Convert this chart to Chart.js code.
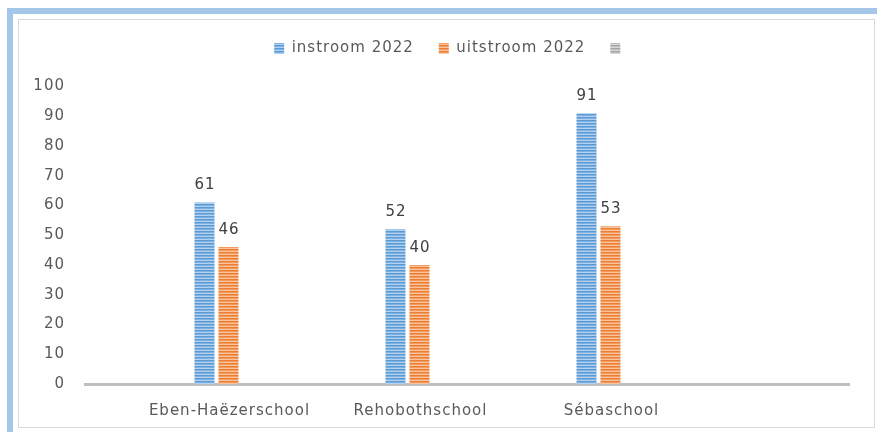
<!DOCTYPE html>
<html>
<head>
<meta charset="utf-8">
<script src="https://cdn.jsdelivr.net/npm/chart.js@4/dist/chart.umd.min.js"></script>
<style>
  html, body { margin: 0; padding: 0; background: #ffffff; width: 877px; height: 432px; overflow: hidden; }
  #bandTop { position: absolute; left: 7px; top: 8px; width: 870px; height: 6px; background: #a3c6e9; }
  #bandLeft { position: absolute; left: 7px; top: 8px; width: 6px; height: 424px; background: #a3c6e9; }
  #frame { position: absolute; left: 18px; top: 19px; width: 857px; height: 409px; box-sizing: border-box; border: 1px solid #d9d9d9; background: #ffffff; }
  #c { position: absolute; left: 18px; top: 0px; }
</style>
</head>
<body>
<div id="bandTop"></div>
<div id="bandLeft"></div>
<div id="frame"></div>
<canvas id="c" width="856" height="432"></canvas>
<script>
// ---- data ----
const categories = ['Eben-Haëzerschool', 'Rehobothschool', 'Sébaschool', ''];
const instroom2022 = [61, 52, 91, null];
const uitstroom2022 = [46, 40, 53, null];
const thirdSeries = [];
const seriesNames = ['instroom 2022', 'uitstroom 2022', ''];
const yTicksMin = 0;
const yTicksMax = 100;
const yTicksStep = 10;

// ---- styles ----
const FONT = 'DejaVu Sans';
function stripes(dark, mid, light) {
  const c = document.createElement('canvas');
  c.width = 4; c.height = 3;
  const g = c.getContext('2d');
  g.fillStyle = dark; g.fillRect(0, 0, 4, 1);
  g.fillStyle = mid; g.fillRect(0, 1, 4, 1);
  g.fillStyle = light; g.fillRect(0, 2, 4, 1);
  return document.getElementById('c').getContext('2d').createPattern(c, 'repeat');
}
const bluePat = stripes('#5b9bd5', '#7fb1e0', '#b3d0ee');
const orangePat = stripes('#ed7d31', '#f29b5f', '#f8c39f');
const greyPat = stripes('#a5a5a5', '#bcbcbc', '#d8d8d8');

const spacing = {
  id: 'spacing',
  beforeUpdate(chart) { chart.ctx.letterSpacing = '1px'; },
  beforeLayout(chart) { chart.ctx.letterSpacing = '1px'; },
  beforeDraw(chart) { chart.ctx.letterSpacing = '1px'; }
};

const valueLabels = {
  id: 'valueLabels',
  afterDatasetsDraw(chart) {
    const ctx = chart.ctx;
    ctx.save();
    ctx.letterSpacing = '1px';
    ctx.font = '15px "' + FONT + '"';
    ctx.fillStyle = '#404040';
    ctx.textAlign = 'center';
    ctx.textBaseline = 'alphabetic';
    chart.data.datasets.forEach((ds, di) => {
      if (!ds.showValues) return;
      const meta = chart.getDatasetMeta(di);
      meta.data.forEach((el, i) => {
        const v = ds.data[i];
        if (v === null || v === undefined) return;
        ctx.fillText(String(v), el.x + 0.5, el.y - 13);
      });
    });
    ctx.restore();
  }
};

const spacer = { label: '', data: [], backgroundColor: 'rgba(0,0,0,0)', borderWidth: 0 };

new Chart(document.getElementById('c'), {
  type: 'bar',
  data: {
    labels: categories,
    datasets: [
      Object.assign({}, spacer),
      Object.assign({}, spacer),
      Object.assign({}, spacer),
      { label: seriesNames[0], data: instroom2022, backgroundColor: bluePat, borderWidth: 0, showValues: true },
      { label: seriesNames[1], data: uitstroom2022, backgroundColor: orangePat, borderWidth: 0, showValues: true },
      { label: seriesNames[2], data: thirdSeries, backgroundColor: greyPat, borderWidth: 0, grouped: false }
    ]
  },
  options: {
    responsive: false,
    animation: false,
    devicePixelRatio: 1,
    categoryPercentage: 0.628,
    barPercentage: 0.833,
    layout: { padding: { top: 16, left: 35, right: 25, bottom: 12 } },
    plugins: {
      tooltip: { enabled: false },
      title: { display: true, text: '', position: 'top', weight: 0, padding: 0, font: { size: 17 } },
      legend: {
        display: true,
        position: 'top',
        labels: {
          filter: (item) => item.datasetIndex >= 3,
          boxWidth: 10,
          boxHeight: 11,
          padding: 25,
          color: '#595959',
          font: { family: FONT, size: 15 }
        }
      }
    },
    scales: {
      x: {
        grid: { display: false, drawTicks: false },
        border: { display: true, color: '#bfbfbf', width: 3 },
        afterFit(scale) { scale.height = 36; },
        ticks: {
          padding: 18,
          labelOffset: 49,
          autoSkip: false,
          maxRotation: 0,
          color: '#595959',
          font: { family: FONT, size: 15 }
        }
      },
      y: {
        min: yTicksMin,
        max: yTicksMax,
        grid: { display: false, drawTicks: false },
        border: { display: false },
        afterFit(scale) { scale.width = 32; scale._computeLabelArea = () => undefined; },
        ticks: {
          stepSize: yTicksStep,
          padding: 20,
          color: '#595959',
          font: { family: FONT, size: 15 }
        }
      }
    }
  },
  plugins: [spacing, valueLabels]
});
</script>
</body>
</html>
